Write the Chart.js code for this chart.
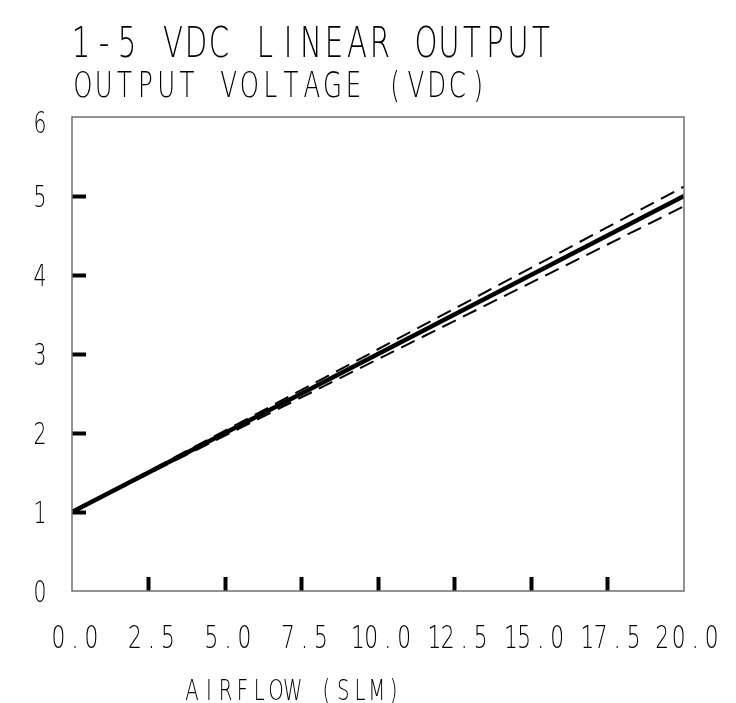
<!DOCTYPE html>
<html>
<head>
<meta charset="utf-8">
<script src="https://cdn.jsdelivr.net/npm/chart.js@4/dist/chart.umd.min.js"></script>
<style>
  html, body { margin: 0; padding: 0; background: #fff; }
  #wrap { width: 736px; height: 703px; }
</style>
</head>
<body>
<div id="wrap"><canvas id="chart" width="736" height="703"></canvas></div>
<script>
// valores
const airflow = [0, 20];
const nominalVdc = [1, 5];
const upperVdc = [1, 5.12];
const lowerVdc = [1, 4.87];

const xTickLabels = ['0.0', '2.5', '5.0', '7.5', '10.0', '12.5', '15.0', '17.5', '20.0'];
const yTickLabels = ['0', '1', '2', '3', '4', '5', '6'];

const titleText = '1-5 VDC LINEAR OUTPUT';
const yTitleText = 'OUTPUT VOLTAGE (VDC)';
const xTitleText = 'AIRFLOW (SLM)';

const FONT = "'DejaVu Sans', sans-serif";
const SQUISH = 0.68;   // fonte estreita tipo CAD

const toPoints = (ys) => airflow.map((x, i) => ({ x, y: ys[i] }));

// avanço de cada letra: o "1" é só um traço, ocupa menos
const advance = (ch, pitch, narrowOne) => (narrowOne && ch === '1' ? pitch * 0.6 : pitch);

// escreve letra por letra com passo fixo (fonte "monotxt")
function cadText(ctx, text, cx0, baseline, size, pitch, narrowOne) {
  ctx.save();
  ctx.font = `200 ${size}px ${FONT}`;
  ctx.fillStyle = '#000';
  ctx.textAlign = 'center';
  ctx.textBaseline = 'alphabetic';
  let cx = cx0;
  for (let i = 0; i < text.length; i++) {
    const ch = text[i];
    const adv = advance(ch, pitch, narrowOne);
    if (i > 0) cx += (adv + advance(text[i - 1], pitch, narrowOne)) / 2;
    if (ch === ' ') continue;
    ctx.save();
    ctx.translate(cx, baseline);
    ctx.scale(SQUISH, 1);
    ctx.fillText(ch, 0, 0);
    ctx.restore();
  }
  ctx.restore();
}

// centraliza um rótulo curto no ponto dado
function cadLabel(ctx, text, cx, baseline, size, pitch) {
  let span = 0;
  for (let i = 1; i < text.length; i++) {
    span += (advance(text[i], pitch, true) + advance(text[i - 1], pitch, true)) / 2;
  }
  cadText(ctx, text, cx - span / 2, baseline, size, pitch, true);
}

const frameAndText = {
  id: 'frameAndText',
  afterDraw(chart) {
    const { ctx, chartArea: a } = chart;
    const xs = chart.scales.x;
    const ys = chart.scales.y;

    ctx.save();
    ctx.strokeStyle = '#6f6f6f';
    ctx.lineWidth = 1.5;
    ctx.strokeRect(a.left, a.top, a.right - a.left, a.bottom - a.top);
    ctx.restore();

    // rótulos dos ticks pelas escalas
    xTickLabels.forEach((t) => {
      cadLabel(ctx, t, xs.getPixelForValue(parseFloat(t)) + 3, a.bottom + 57, 32, 16.5);
    });
    yTickLabels.forEach((t) => {
      const baseline = Math.max(ys.getPixelForValue(Number(t)) + 11, a.top + 16);
      cadLabel(ctx, t, a.left - 32, baseline, 30, 17);
    });

    cadText(ctx, titleText, a.left + 9, 57, 43, 23);
    cadText(ctx, yTitleText, a.left + 11, 97, 36, 20.8);
    cadText(ctx, xTitleText, 192, 700, 29, 16.8);
  }
};

new Chart(document.getElementById('chart'), {
  type: 'line',
  data: {
    datasets: [
      {
        label: 'upper',
        data: toPoints(upperVdc),
        borderColor: '#000',
        borderWidth: 2,
        borderDash: [15, 8],
        pointRadius: 0,
        fill: false
      },
      {
        label: 'lower',
        data: toPoints(lowerVdc),
        borderColor: '#000',
        borderWidth: 2,
        borderDash: [15, 8],
        pointRadius: 0,
        fill: false
      },
      {
        label: 'nominal',
        data: toPoints(nominalVdc),
        borderColor: '#000',
        borderWidth: 4.5,
        pointRadius: 0,
        fill: false
      }
    ]
  },
  options: {
    responsive: false,
    animation: false,
    layout: { padding: { left: 35, right: 52, top: 117, bottom: 0 } },
    plugins: {
      legend: { display: false },
      title: { display: false },
      tooltip: { enabled: false }
    },
    scales: {
      x: {
        type: 'linear',
        min: 0,
        max: 20,
        border: { display: false },
        afterFit(scale) {
          scale.height = 112;
          scale.paddingLeft = 0;
          scale.paddingRight = 0;
        },
        afterBuildTicks(scale) {
          scale.ticks = xTickLabels.map((t) => ({ value: parseFloat(t) }));
        },
        ticks: { display: false },
        grid: {
          drawOnChartArea: false,
          drawTicks: true,
          tickLength: -14,
          tickColor: '#000',
          tickWidth: (c) => (c.tick && (c.tick.value === 0 || c.tick.value === 20) ? 0 : 4)
        }
      },
      y: {
        type: 'linear',
        min: 0,
        max: 6,
        border: { display: false },
        afterFit(scale) {
          scale.width = 37;
          scale.paddingTop = 0;
          scale.paddingBottom = 0;
        },
        afterBuildTicks(scale) {
          scale.ticks = yTickLabels.map((t) => ({ value: Number(t) }));
        },
        ticks: { display: false },
        grid: {
          drawOnChartArea: false,
          drawTicks: true,
          tickLength: -14,
          tickColor: '#000',
          tickWidth: (c) => (c.tick && (c.tick.value === 0 || c.tick.value === 6) ? 0 : 4)
        }
      }
    }
  },
  plugins: [frameAndText]
});
</script>
</body>
</html>
